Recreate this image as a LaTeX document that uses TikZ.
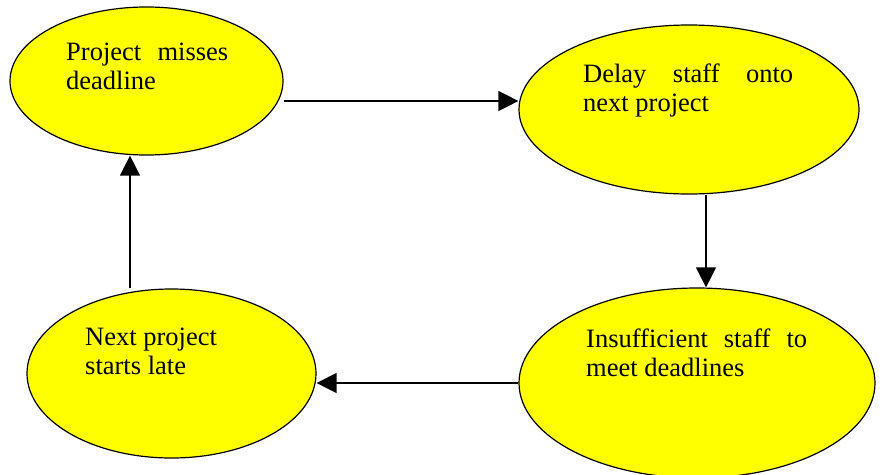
\documentclass[tikz,border=0pt]{standalone}
\usepackage{fontspec}
\setmainfont{Liberation Serif}
\usetikzlibrary{arrows.meta,shapes.geometric}
\definecolor{ellfill}{RGB}{255,255,0}
\tikzset{
  ell/.style={ellipse, draw=black, line width=1.2pt, fill=ellfill, inner sep=0pt},
  lbl/.style={anchor=base west, inner sep=0pt, align=left, font=\fontsize{26.5}{29.5}\selectfont},
  arr/.style={line width=1.3pt, -{Triangle[length=20pt,width=20pt]}}
}
\begin{document}
\begin{tikzpicture}[x=1pt,y=-1pt]
\useasboundingbox (0,0) rectangle (882,474);
\begin{scope}
\clip (0,0) rectangle (882,474);
\node[ell, minimum width=273pt, minimum height=148pt] (e1) at (146.5,81) {};
\node[ell, minimum width=340pt, minimum height=169pt] (e2) at (689,109.5) {};
\node[ell, minimum width=356pt, minimum height=190pt] (e3) at (697,383) {};
\node[ell, minimum width=289pt, minimum height=169pt] (e4) at (171.5,373.5) {};
\end{scope}
\node[lbl] (t1) at (66,89.5) {\makebox[162pt][s]{Project misses}\\deadline};
\node[lbl] (t2) at (583,111.5) {\makebox[210pt][s]{Delay staff onto}\\next project};
\node[lbl] (t3) at (586,376.5) {\makebox[221pt][s]{Insufficient staff to}\\meet deadlines};
\node[lbl] (t4) at (85,374.5) {Next project\\starts late};
\draw[arr] (e1.east |- 0,101) -- (e2.west |- 0,101);
\draw[arr] (e2.south -| 706,0) -- (e3.north -| 706,0);
\draw[arr] (e3.west |- 0,383) -- (e4.east |- 0,383);
\draw[arr] (e4.north -| 130,0) -- (e1.south -| 130,0);
\end{tikzpicture}
\end{document}
